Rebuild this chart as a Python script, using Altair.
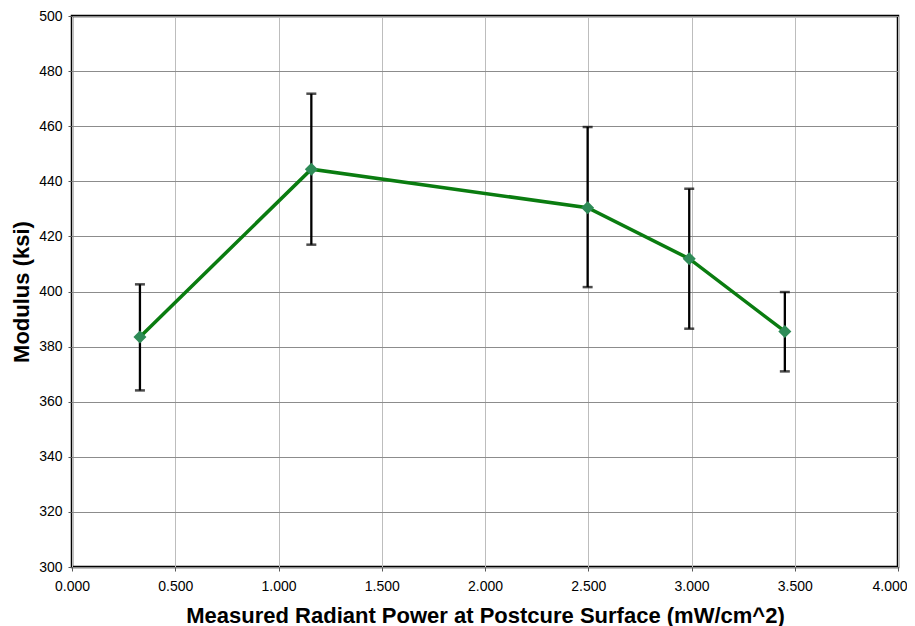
import altair as alt
import pandas as pd

power = [0.329, 1.159, 2.497, 2.989, 3.452]
modulus = [383.5, 444.4, 430.4, 411.9, 385.5]
err_high = [402.6, 471.8, 459.7, 437.3, 399.8]
err_low = [364.1, 417.0, 401.6, 386.5, 371.0]

df = pd.DataFrame({"power": power, "modulus": modulus, "hi": err_high, "lo": err_low})

FONT = "Liberation Sans"

x_enc = alt.X("power:Q", scale=alt.Scale(domain=[0, 4], nice=False, zero=False),
              axis=alt.Axis(title="Measured Radiant Power at Postcure Surface (mW/cm^2)",
                            values=[0, 0.5, 1, 1.5, 2, 2.5, 3, 3.5, 4], format=".3f",
                            labelAlign=alt.expr("datum.value >= 4 ? 'right' : 'center'"),
                            labelOffset=alt.expr("datum.value >= 4 ? 9 : 0"),
                            gridColor="#bdbdbd", gridWidth=1))
y_enc = alt.Y("modulus:Q", scale=alt.Scale(domain=[300, 500], nice=False, zero=False),
              axis=alt.Axis(title="Modulus (ksi)", values=list(range(300, 501, 20)),
                            gridColor="#8c8c8c", gridWidth=1))

base = alt.Chart(df)

bars = base.mark_rule(color="black", strokeWidth=2.3).encode(
    x=x_enc, y=alt.Y("lo:Q"), y2="hi:Q")
cap_hi = base.mark_tick(color="black", orient="horizontal", size=10, thickness=2.5).encode(
    x="power:Q", y="hi:Q")
cap_lo = base.mark_tick(color="black", orient="horizontal", size=10, thickness=2.5).encode(
    x="power:Q", y="lo:Q")
line = base.mark_line(color="#0a7c10", strokeWidth=3.5).encode(x=x_enc, y=y_enc)
pts = base.mark_point(shape="diamond", filled=True, size=170, color="#2e8b57", opacity=1).encode(
    x="power:Q", y="modulus:Q")

chart = alt.layer(bars, cap_hi, cap_lo, line, pts).properties(
    width=826, height=551,
    autosize=alt.AutoSizeParams(type="none"),
    padding={"left": 64, "top": 8, "right": 9, "bottom": 59},
    background="white",
).configure_view(
    stroke="black", strokeWidth=2.5
).configure_axis(
    labelFont=FONT, labelFontSize=14, labelColor="black", labelFlush=False,
    titleFont=FONT, titleFontSize=22, titleFontWeight="bold", titleColor="black",
    domain=False, tickColor="#555", tickSize=4, tickWidth=1,
).configure_axisX(
    labelPadding=8, titlePadding=12
).configure_axisY(
    labelPadding=6, titlePadding=5
)

chart.save("out.html", embed_options={"renderer": "svg", "actions": False})
